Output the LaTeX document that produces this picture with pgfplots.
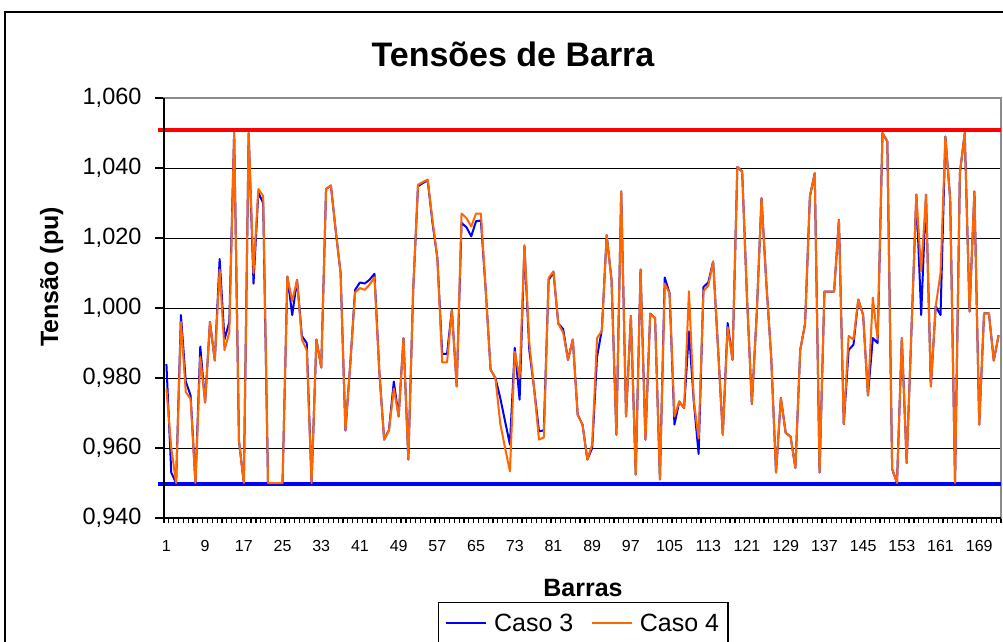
\documentclass[border=0pt]{standalone}
\usepackage{fontspec}
\setmainfont{Liberation Sans}
\usepackage{pgfplots}
\usepackage{pgfplotstable}
\pgfplotsset{compat=1.18}
\definecolor{cthree}{RGB}{0,0,255}
\definecolor{cfour}{RGB}{255,102,0}
\definecolor{lred}{RGB}{255,0,0}
\pgfplotstableread{
i c3 c4
1 0.984 0.977
2 0.953 0.960
3 0.950 0.950
4 0.998 0.996
5 0.979 0.976
6 0.975 0.974
7 0.950 0.950
8 0.989 0.986
9 0.973 0.973
10 0.996 0.996
11 0.985 0.985
12 1.014 1.011
13 0.991 0.988
14 0.996 0.993
15 1.050 1.050
16 0.962 0.962
17 0.950 0.950
18 1.050 1.050
19 1.007 1.010
20 1.033 1.034
21 1.030 1.032
22 0.950 0.950
23 0.950 0.950
24 0.950 0.950
25 0.950 0.950
26 1.009 1.009
27 0.998 1.002
28 1.008 1.008
29 0.992 0.991
30 0.990 0.988
31 0.950 0.950
32 0.991 0.991
33 0.983 0.983
34 1.034 1.034
35 1.035 1.035
36 1.022 1.022
37 1.010 1.010
38 0.965 0.965
39 0.984 0.984
40 1.0052 1.0045
41 1.0073 1.0057
42 1.0070 1.0052
43 1.0081 1.0067
44 1.0098 1.0088
45 0.982 0.982
46 0.9624 0.9624
47 0.9652 0.9650
48 0.979 0.977
49 0.969 0.969
50 0.9914 0.9914
51 0.9567 0.9567
52 1.005 1.005
53 1.0348 1.0352
54 1.0357 1.0360
55 1.0365 1.0367
56 1.0243 1.0250
57 1.0143 1.0143
58 0.9869 0.9845
59 0.9869 0.9845
60 0.9995 0.9995
61 0.9776 0.9776
62 1.0243 1.0270
63 1.0231 1.0257
64 1.0205 1.0233
65 1.0248 1.0270
66 1.0250 1.0270
67 1.005 1.005
68 0.9824 0.9824
69 0.9800 0.9800
70 0.9743 0.9670
71 0.9676 0.9600
72 0.9610 0.9533
73 0.9886 0.9875
74 0.9738 0.9800
75 1.0176 1.0180
76 0.9880 0.9900
77 0.9770 0.9770
78 0.9648 0.9624
79 0.9650 0.9630
80 1.0080 1.0086
81 1.0102 1.0105
82 0.9955 0.9955
83 0.9940 0.9930
84 0.9852 0.9852
85 0.9910 0.9910
86 0.9695 0.9695
87 0.9667 0.9667
88 0.9567 0.9567
89 0.9600 0.9610
90 0.9860 0.9914
91 0.9938 0.9935
92 1.0208 1.0208
93 1.0080 1.0080
94 0.9638 0.9638
95 1.0333 1.0333
96 0.9690 0.9690
97 0.9977 0.9977
98 0.9524 0.9524
99 1.0110 1.0110
100 0.9624 0.9624
101 0.9984 0.9984
102 0.9971 0.9971
103 0.9510 0.9510
104 1.0087 1.0070
105 1.0042 1.0042
106 0.9667 0.9690
107 0.9733 0.9733
108 0.9714 0.9714
109 0.9933 1.0048
110 0.9733 0.9735
111 0.9583 0.9627
112 1.0060 1.0048
113 1.0073 1.0064
114 1.0133 1.0133
115 0.9888 0.9888
116 0.9638 0.9638
117 0.9957 0.9945
118 0.9852 0.9852
119 1.0403 1.0403
120 1.0390 1.0390
121 1.0030 1.0030
122 0.9726 0.9726
123 0.9980 0.9980
124 1.0314 1.0314
125 1.0070 1.0070
126 0.9860 0.9860
127 0.9530 0.9530
128 0.9743 0.9743
129 0.9643 0.9643
130 0.9633 0.9633
131 0.9543 0.9543
132 0.9880 0.9880
133 0.9955 0.9955
134 1.0319 1.0319
135 1.0385 1.0385
136 0.9530 0.9530
137 1.0047 1.0047
138 1.0047 1.0047
139 1.0047 1.0047
140 1.0252 1.0252
141 0.9668 0.9668
142 0.9880 0.9920
143 0.9895 0.9910
144 1.0024 1.0024
145 0.9980 0.9980
146 0.9750 0.9750
147 0.9914 1.0030
148 0.9900 0.9910
149 1.0500 1.0500
150 1.0476 1.0476
151 0.9540 0.9540
152 0.9500 0.9500
153 0.9914 0.9914
154 0.9557 0.9557
155 0.9940 0.9940
156 1.0324 1.0324
157 0.9980 1.0105
158 1.0324 1.0324
159 0.9776 0.9776
160 1.0005 1.0005
161 0.9980 1.0100
162 1.0490 1.0490
163 1.0310 1.0310
164 0.9500 0.9500
165 1.0386 1.0386
166 1.0500 1.0500
167 0.9990 0.9990
168 1.0333 1.0333
169 0.9667 0.9667
170 0.9985 0.9985
171 0.9985 0.9985
172 0.9850 0.9850
173 0.9922 0.9922
}\data

\begin{document}
\begin{tikzpicture}[x=1pt,y=1pt]
\useasboundingbox (0,0) rectangle (1003,-641);
\clip (0,0) rectangle (1003,-641);
\draw[line width=1.5pt] (5,-12) rectangle (1030,-670);
\begin{axis}[
  at={(164pt,-518pt)}, anchor=south west,
  scale only axis, width=837pt, height=420pt,
  xmin=0.5, xmax=173.5, ymin=0.94, ymax=1.06,
  clip=false,
  axis line style={draw=black!45, line width=1.2pt},
  tick pos=left,
  xtick={1,9,...,169},
  xticklabels={1,9,17,25,33,41,49,57,65,73,81,89,97,105,113,121,129,137,145,153,161,169},
  minor xtick={0.5,1.5,...,173.5},
  major x tick style={draw=none},
  ytick={0.94,0.96,0.98,1,1.02,1.04,1.06},
  yticklabels={{0,940},{0,960},{0,980},{1,000},{1,020},{1,040},{1,060}},
  tick align=outside, major tick length=9pt, minor tick length=5pt,
  tick style={black, line width=1.2pt},
  ymajorgrids, major grid style={black, line width=1pt},
  xticklabel style={font=\fontsize{16}{18}\selectfont, yshift=-10pt},
  yticklabel style={font=\fontsize{23.5}{27}\selectfont, xshift=-10pt},
  /pgf/number format/assume math mode=true,
  legend columns=2,
  legend style={at={(0.3274,-0.2)}, anchor=north west, draw=black, line width=1.2pt,
    font=\fontsize{25}{30}\selectfont, inner xsep=7pt, inner ysep=9pt,
    /tikz/every odd column/.append style={column sep=5pt},
    /tikz/every even column/.append style={column sep=16pt}},
  legend image code/.code={\draw[#1, line width=1.5pt] (0pt,0pt) -- (40pt,0pt);},
]
\addplot[lred, line width=4pt, forget plot] coordinates {(-0.74,1.051) (173.5,1.051)};
\addplot[cthree, line width=4pt, forget plot] coordinates {(-0.74,0.9497) (173.5,0.9497)};
\addplot[cthree, line width=2pt, mark=none, line join=round] table[x=i,y=c3] {\data};
\addplot[cfour, line width=2pt, mark=none, line join=round] table[x=i,y=c4] {\data};
\draw[black, line width=2pt] (axis cs:0.5,1.06) -- (axis cs:0.5,0.94) -- (axis cs:173.5,0.94);
\legend{Caso 3, Caso 4}
\end{axis}
\node[font=\fontsize{34}{40}\selectfont\bfseries, anchor=base] at (513,-66) {Tensões de Barra};
\node[font=\fontsize{25}{30}\selectfont\bfseries, anchor=base] at (583,-596) {Barras};
\node[font=\fontsize{25}{30}\selectfont\bfseries, rotate=90, anchor=base] at (58,-277) {Tensão (pu)};
\end{tikzpicture}
\end{document}
